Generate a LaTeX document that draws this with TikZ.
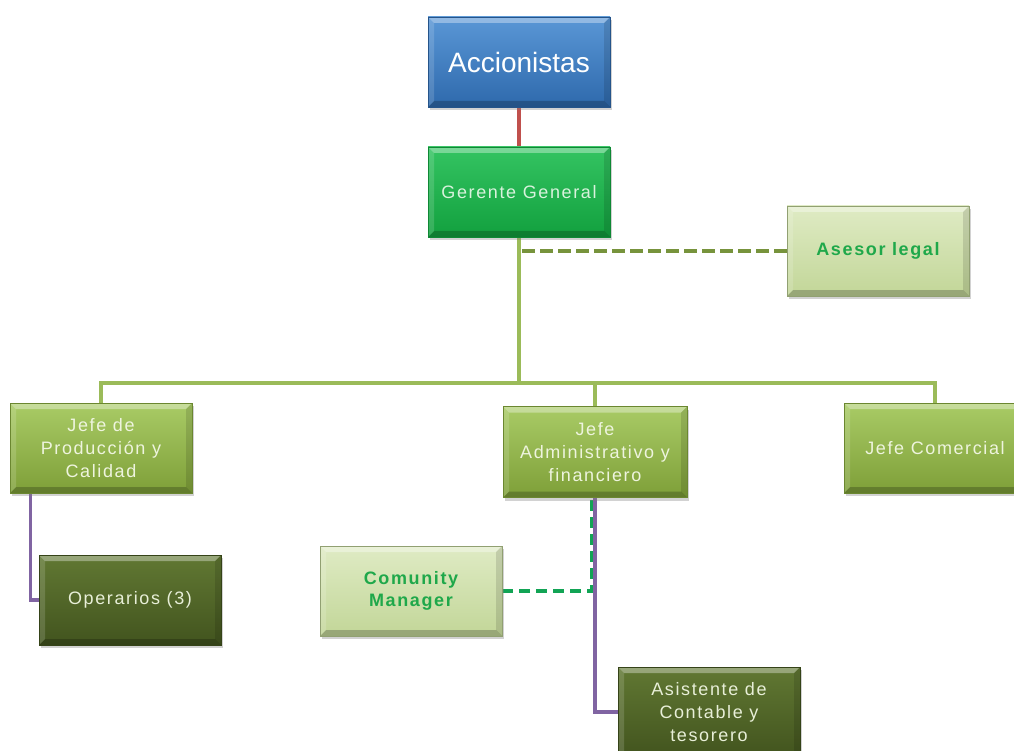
\documentclass[tikz,border=0pt]{standalone}
\usepackage{fontspec}
\setmainfont{Liberation Sans}
\newfontfamily\spaced[LetterSpace=9]{Liberation Sans}
\usetikzlibrary{shadows,calc,backgrounds}
\definecolor{acctop}{HTML}{5A97D6}
\definecolor{accbot}{HTML}{2E69AC}
\definecolor{gertop}{HTML}{34C462}
\definecolor{gerbot}{HTML}{12A03E}
\definecolor{gertext}{HTML}{D9F2DD}
\definecolor{jeftop}{HTML}{A9CB66}
\definecolor{jefbot}{HTML}{7E9F38}
\definecolor{jeftext}{HTML}{EEF4DE}
\definecolor{asetop}{HTML}{DFEBC4}
\definecolor{asebot}{HTML}{C2D698}
\definecolor{asetext}{HTML}{1FA84A}
\definecolor{optop}{HTML}{617833}
\definecolor{opbot}{HTML}{42541E}
\definecolor{optext}{HTML}{E8EFD8}
\definecolor{redline}{HTML}{C0504D}
\definecolor{busline}{HTML}{9BBB59}
\definecolor{oliveline}{HTML}{77933C}
\definecolor{purpleline}{HTML}{8064A2}
\definecolor{cmline}{HTML}{12A455}
\tikzset{
  bevel/.style={path picture={
    \fill[white,opacity=0.35] (path picture bounding box.north west) -- (path picture bounding box.north east)
      -- ([xshift=-6pt,yshift=-6pt]path picture bounding box.north east) -- ([xshift=6pt,yshift=-6pt]path picture bounding box.north west) -- cycle;
    \fill[black,opacity=0.22] (path picture bounding box.south west) -- (path picture bounding box.south east)
      -- ([xshift=-6pt,yshift=6pt]path picture bounding box.south east) -- ([xshift=6pt,yshift=6pt]path picture bounding box.south west) -- cycle;
    \fill[white,opacity=0.15] (path picture bounding box.north west) -- (path picture bounding box.south west)
      -- ([xshift=6pt,yshift=6pt]path picture bounding box.south west) -- ([xshift=6pt,yshift=-6pt]path picture bounding box.north west) -- cycle;
    \fill[black,opacity=0.12] (path picture bounding box.north east) -- (path picture bounding box.south east)
      -- ([xshift=-6pt,yshift=6pt]path picture bounding box.south east) -- ([xshift=-6pt,yshift=-6pt]path picture bounding box.north east) -- cycle;
  }},
  box/.style={rectangle, minimum width=182pt, minimum height=90pt, inner sep=2pt, align=center, bevel,
    drop shadow={opacity=0.35, shadow xshift=2pt, shadow yshift=-3pt},
    font=\spaced\fontsize{18}{23}\selectfont},
  accbox/.style={box, top color=acctop, bottom color=accbot, draw=accbot!80!black, line width=0.6pt,
    text=white, font=\fontsize{28}{32}\selectfont},
  gerbox/.style={box, top color=gertop, bottom color=gerbot, draw=gerbot!85!black, line width=0.6pt, text=gertext},
  jefbox/.style={box, top color=jeftop, bottom color=jefbot, draw=jefbot!85!black, line width=0.6pt, text=jeftext},
  asebox/.style={box, top color=asetop, bottom color=asebot, draw=asebot!75!black, line width=0.6pt, text=asetext,
    font=\spaced\bfseries\fontsize{18}{22}\selectfont},
  opbox/.style={box, top color=optop, bottom color=opbot, draw=opbot!80!black, line width=0.6pt, text=optext},
  conn/.style={line width=3.5pt},
}
\begin{document}
\begin{tikzpicture}[x=1pt,y=-1pt]
\useasboundingbox (0,0) rectangle (1014,751);
\clip (0,0) rectangle (1014,751);
\node[accbox] (acc) at (519,62) {Accionistas};
\node[gerbox] (ger) at (519,192) {Gerente General};
\node[asebox] (ase) at (878,251) {Asesor legal};
\node[jefbox] (jp) at (101,448) {Jefe de\\Producción y\\Calidad};
\node[jefbox, minimum width=184pt, minimum height=91pt] (ja) at (595,452) {Jefe\\Administrativo y\\financiero};
\node[jefbox] (jc) at (935,448) {Jefe Comercial};
\node[asebox] (cm) at (411,591) {Comunity\\Manager};
\node[opbox] (op) at (130,600) {Operarios (3)};
\node[opbox] (as) at (709,712) {Asistente de\\Contable y\\tesorero};
\coordinate (bus) at (519,383);
\begin{scope}[on background layer]
\fill[white] (0,0) rectangle (1014,751);
\draw[conn, redline] (acc.south) -- (ger.north);
\draw[conn, busline] (ger.south) -- (bus);
\draw[conn, busline] (jp.north) |- (bus) -| (jc.north);
\draw[conn, busline] (bus) -| (ja.north);
\draw[conn, oliveline, dash pattern=on 13pt off 5pt] (ase.west) -- (ase.west -| ger.south);
\draw[conn, cmline, dash pattern=on 11pt off 6pt] (cm.east) -| ($(ja.south)+(-3,0)$);
\draw[conn, purpleline] ($(jp.south west)+(21,0)$) |- (op.west);
\draw[conn, purpleline] (ja.south) |- (as.west);
\end{scope}
\end{tikzpicture}
\end{document}
